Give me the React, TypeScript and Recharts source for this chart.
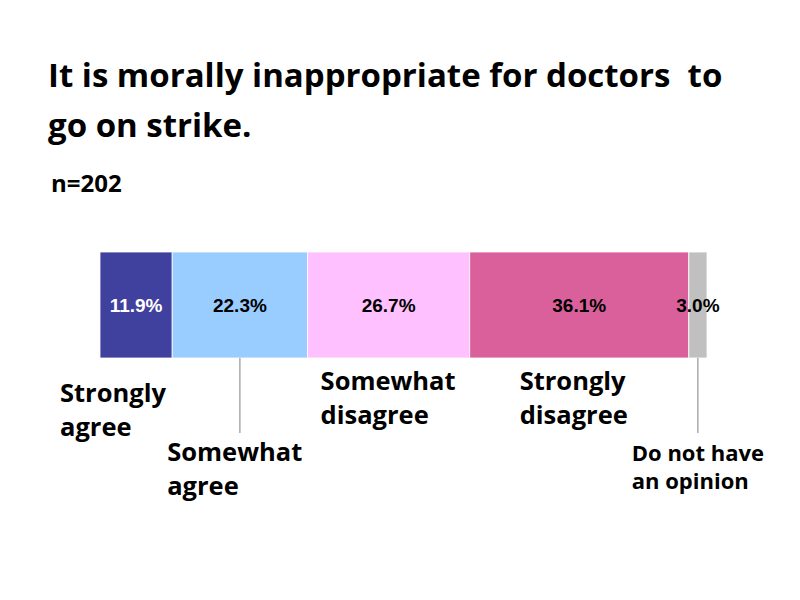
import { BarChart, Bar, XAxis, YAxis, LabelList } from 'recharts';

const categories = ['Strongly agree', 'Somewhat agree', 'Somewhat disagree', 'Strongly disagree', 'Do not have an opinion'];
const categoryLines = [
  ['Strongly', 'agree'],
  ['Somewhat', 'agree'],
  ['Somewhat', 'disagree'],
  ['Strongly', 'disagree'],
  ['Do not have', 'an opinion'],
];
const values = [11.9, 22.3, 26.7, 36.1, 3.0];
const seriesKeys = ['sa', 'swa', 'swd', 'sd', 'na'];

const titleLines = ['It is morally inappropriate for doctors  to', 'go on strike.'];
const sampleLabel = 'n=202';

const colors = ['#40409E', '#99CCFF', '#FFC0FF', '#DA609C', '#C0C0C0'];
const labelColors = ['#ffffff', '#000000', '#000000', '#000000', '#000000'];

// where each category name sits, relative to its segment
const labelLayout = [
  { dx: -40, y: 402, gap: 34, size: 25.5, leader: false },
  { dx: -5, y: 461, gap: 34, size: 25.5, leader: true },
  { dx: 13, y: 390, gap: 34, size: 25.5, leader: false },
  { dx: 50, y: 390, gap: 34, size: 25.5, leader: false },
  { dx: -57, y: 461, gap: 28, size: 22, leader: true },
];

const row: Record<string, number | string> = { name: 'all' };
seriesKeys.forEach((k, i) => {
  row[k] = values[i];
});
const chartData = [row];

const FONT = '"Open Sans", Lato, sans-serif';

const CategoryLabel = (props: any) => {
  const { x, y, width, height, idx } = props;
  const lay = labelLayout[idx];
  const bottom = Number(y) + Number(height);
  const cx = Number(x) + Number(width) / 2;
  return (
    <g>
      {lay.leader && (
        <line x1={cx} x2={cx} y1={bottom} y2={bottom + 75} stroke="#808080" strokeWidth={1} />
      )}
      {categoryLines[idx].map((t, j) => (
        <text
          key={j}
          x={Number(x) + lay.dx}
          y={lay.y + j * lay.gap}
          fontFamily={FONT}
          fontWeight="bold"
          fontSize={lay.size}
          fill="#000"
        >
          {t}
        </text>
      ))}
    </g>
  );
};

export default function App() {
  return (
    <div style={{ position: 'absolute', left: 0, top: 0, width: 800, height: 600, background: '#fff' }}>
      <svg width={800} height={600} style={{ position: 'absolute', left: 0, top: 0 }}>
        {titleLines.map((t, i) => (
          <text
            key={i}
            x={48}
            y={87 + i * 50}
            fontFamily={FONT}
            fontWeight="bold"
            fontSize={33}
            fill="#000"
            style={{ whiteSpace: 'pre' }}
          >
            {t}
          </text>
        ))}
        <text x={51} y={192} fontFamily={FONT} fontWeight="bold" fontSize={24} fill="#000">
          {sampleLabel}
        </text>
      </svg>
      <div style={{ position: 'absolute', left: 0, top: 0 }}>
        <BarChart
          width={800}
          height={600}
          data={chartData}
          layout="vertical"
          margin={{ top: 241, bottom: 232, left: 100, right: 93 }}
          barCategoryGap={0}
        >
          <XAxis type="number" domain={[0, 100]} hide />
          <YAxis
            type="category"
            dataKey="name"
            width={0}
            tick={false}
            tickLine={false}
            axisLine={{ stroke: '#000', strokeWidth: 2 }}
          />
          {seriesKeys.map((k, i) => (
            <Bar
              key={k}
              dataKey={k}
              name={categories[i]}
              stackId="s"
              fill={colors[i]}
              stroke="#ffffff"
              strokeWidth={0.8}
              barSize={106}
              isAnimationActive={false}
            >
              <LabelList
                dataKey={k}
                position="center"
                formatter={(v: any) => `${Number(v).toFixed(1)}%`}
                fill={labelColors[i]}
                style={{ fontFamily: '"Liberation Sans Narrow", "Liberation Sans", sans-serif', fontWeight: 'bold', fontSize: 19 }}
              />
              <LabelList dataKey={k} content={(p: any) => <CategoryLabel {...p} idx={i} />} />
            </Bar>
          ))}
        </BarChart>
      </div>
    </div>
  );
}
